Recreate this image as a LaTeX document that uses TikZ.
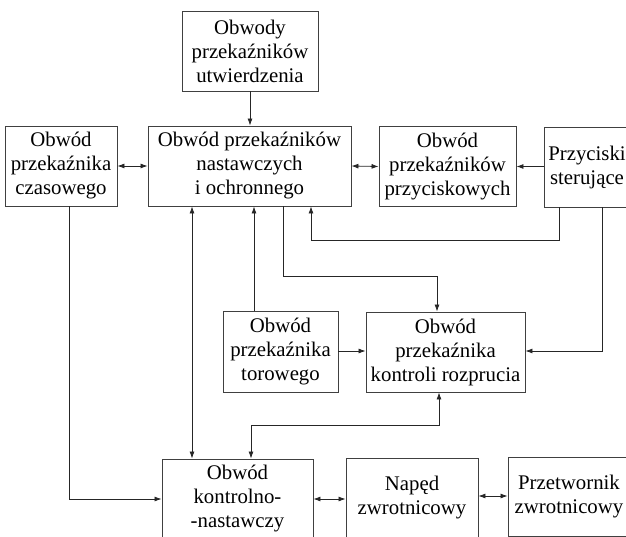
\documentclass[tikz,border=0pt]{standalone}
\usepackage{fontspec}
\setmainfont{Liberation Serif}
\usetikzlibrary{arrows.meta}
\begin{document}
\begin{tikzpicture}[x=1pt,y=-1pt,
  box/.style={draw=black!75, line width=0.9pt, rectangle, inner sep=0pt, align=center,
    font=\fontsize{20.8}{24}\selectfont},
  conn/.style={draw=black!85, line width=0.8pt},
  arr/.style={conn, -{Latex[length=7pt,width=5pt]}},
  darr/.style={conn, {Latex[length=7pt,width=5pt]}-{Latex[length=7pt,width=5pt]}}]
\useasboundingbox (0,0) rectangle (626,537);
\clip (0,0) rectangle (626,537);
% boxes
\node[box, minimum width=136pt, minimum height=80pt] (utw) at (250,51) {Obwody\\przekaźników\\utwierdzenia};
\node[box, minimum width=112pt, minimum height=80pt] (czas) at (61,166) {Obwód\\przekaźnika\\czasowego};
\node[box, minimum width=203pt, minimum height=80pt] (main) at (249.5,166) {Obwód przekaźników\\nastawczych\\i ochronnego};
\node[box, minimum width=137pt, minimum height=80pt] (przyc) at (447.5,166.5) {Obwód\\przekaźników\\przyciskowych};
\node[box, minimum width=86pt, minimum height=80pt] (ster) at (587,167) {Przyciski\\sterujące};
\node[box, minimum width=115pt, minimum height=81pt] (tor) at (280.5,351.5) {Obwód\\przekaźnika\\torowego};
\node[box, minimum width=159pt, minimum height=80pt] (roz) at (445.5,352) {Obwód\\przekaźnika\\kontroli rozprucia};
\node[box, minimum width=151pt, minimum height=80pt] (kon) at (237.5,499) {Obwód\\kontrolno-\\-nastawczy};
\node[box, minimum width=132pt, minimum height=80pt] (nap) at (412,498) {Napęd\\zwrotnicowy};
\node[box, minimum width=122pt, minimum height=79pt] (prz) at (569,496.5) {Przetwornik\\zwrotnicowy};
% helper coordinates
\coordinate (c5a) at (559,240);
\coordinate (c5b) at (311,240);
\coordinate (c6) at (602,351);
\coordinate (c7a) at (283,276);
\coordinate (c7b) at (437,276);
\coordinate (c8) at (254,0);
\coordinate (c10) at (192,0);
\coordinate (c11) at (69,499);
\coordinate (c12a) at (439,425);
\coordinate (c12b) at (251,425);
\coordinate (c14) at (0,496);
% connectors
\draw[arr] (utw.south) -- (main.north -| utw.south);
\draw[darr] (czas.east) -- (main.west);
\draw[darr] (main.east) -- (przyc.west);
\draw[arr] (ster.west |- przyc.east) -- (przyc.east);
\draw[arr] (ster.south -| c5a) -- (c5a) -- (c5b) -- (main.south -| c5b);
\draw[arr] (ster.south -| c6) -- (c6) -- (roz.east |- c6);
\draw[arr] (main.south -| c7a) -- (c7a) -- (c7b) -- (roz.north -| c7b);
\draw[arr] (tor.north -| c8) -- (main.south -| c8);
\draw[arr] (tor.east |- c6) -- (roz.west |- c6);
\draw[darr] (main.south -| c10) -- (kon.north -| c10);
\draw[arr] (czas.south -| c11) -- (c11) -- (kon.west |- c11);
\draw[darr] (roz.south -| c12a) -- (c12a) -- (c12b) -- (kon.north -| c12b);
\draw[darr] (kon.east |- c11) -- (nap.west |- c11);
\draw[darr] (nap.east |- c14) -- (prz.west |- c14);
\end{tikzpicture}
\end{document}
